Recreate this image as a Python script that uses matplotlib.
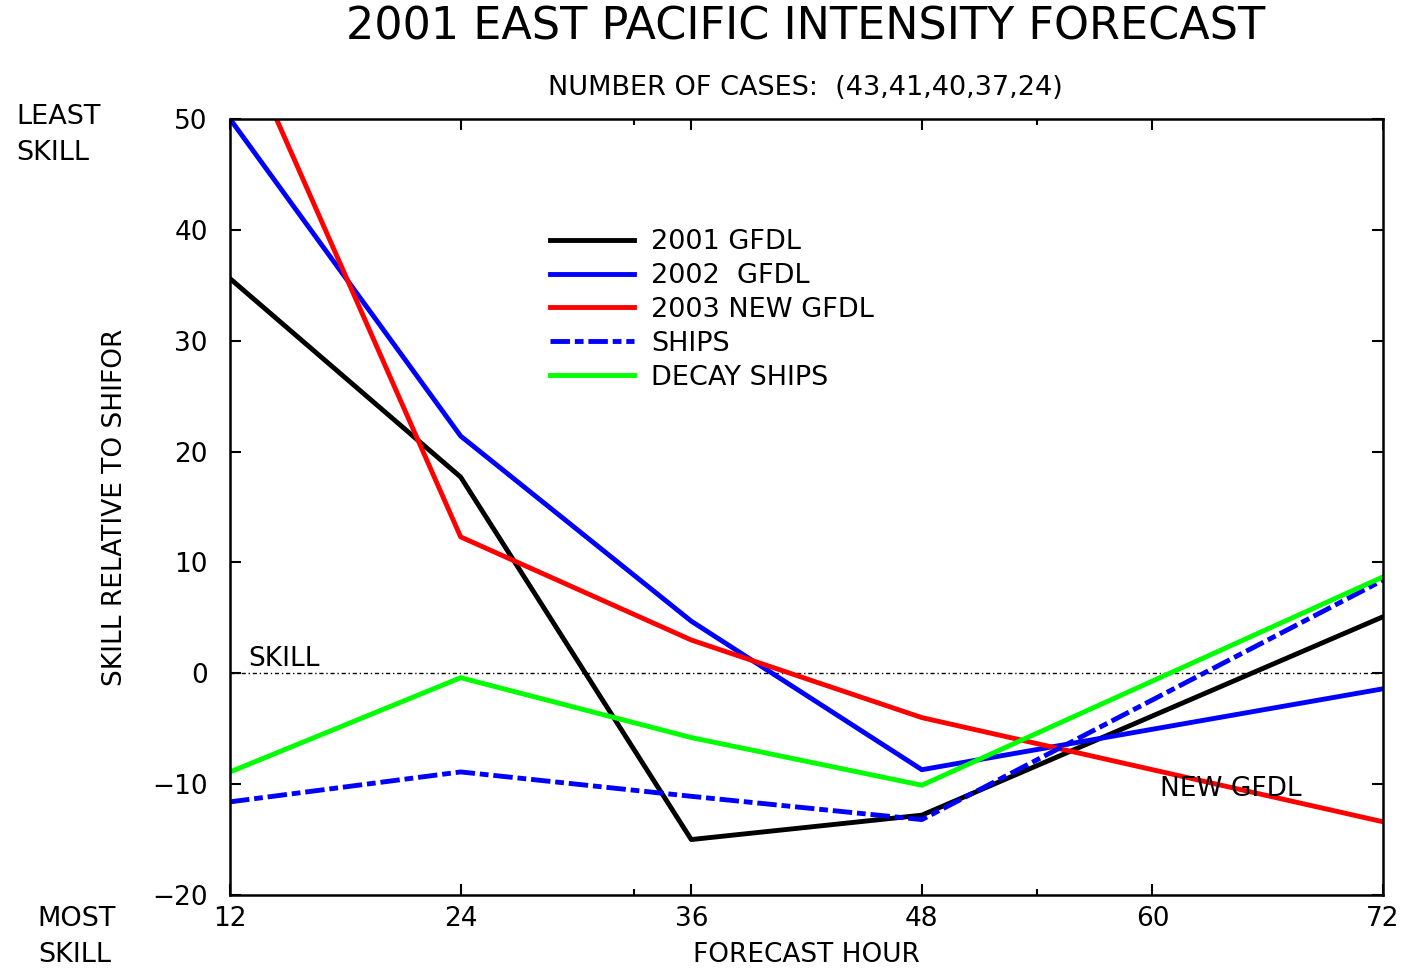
import matplotlib
matplotlib.use('Agg')
import matplotlib.pyplot as plt

plt.rcParams['font.family'] = ['DejaVu Sans']

# forecast hours and skill values (percent relative to SHIFOR)
hours = [12, 24, 36, 48, 72]
gfdl_2001 = [35.6, 17.7, -15.0, -12.8, 5.1]
gfdl_2002 = [50.0, 21.4, 4.7, -8.7, -1.4]
gfdl_2003 = [59.5, 12.3, 3.0, -4.0, -13.4]
ships = [-11.6, -8.9, -11.1, -13.2, 8.4]
decay_ships = [-8.9, -0.4, -5.8, -10.1, 8.7]

labels = ['2001 GFDL', '2002  GFDL', '2003 NEW GFDL', 'SHIPS', 'DECAY SHIPS']

fig = plt.figure(figsize=(14.01, 9.69), dpi=100)
ax = fig.add_axes([0.1642, 0.0764, 0.8230, 0.8008])

lw = 3.5
ax.plot(hours, gfdl_2001, color='black', lw=lw, label=labels[0])
ax.plot(hours, gfdl_2002, color='#0000ff', lw=lw, label=labels[1])
ax.plot(hours, gfdl_2003, color='#ff0000', lw=lw, label=labels[2])
ax.plot(hours, ships, color='#0000ff', lw=lw, linestyle=(0, (4, 1.0, 1.8, 1.0)),
        label=labels[3])
ax.plot(hours, decay_ships, color='#00ff00', lw=lw, label=labels[4])

# zero skill line
ax.axhline(0, color='black', lw=1.0, linestyle=(0, (3, 2, 1, 2)), zorder=1)
ax.text(12.95, 1.3, 'SKILL', fontsize=19, va='center', ha='left')
ax.text(60.4, -10.4, 'NEW GFDL', fontsize=19, va='center', ha='left')

ax.set_xlim(12, 72)
ax.set_ylim(-20, 50)
ax.set_xticks([12, 24, 36, 48, 60, 72])
ax.set_xticks([33, 54], minor=True)
ax.set_yticks(range(-20, 51, 10))
ax.tick_params(which='both', direction='in', top=True, right=True,
               labelsize=19, width=1.5)
ax.tick_params(which='major', length=8)
ax.tick_params(which='minor', length=4)
ax.tick_params(axis='x', pad=8)
ax.tick_params(axis='y', pad=16)
for s in ax.spines.values():
    s.set_linewidth(1.8)

ax.set_xlabel('FORECAST HOUR', fontsize=19)
ax.xaxis.set_label_coords(0.5, -0.077)
ax.xaxis.label.set_va('center')
ax.set_ylabel('SKILL RELATIVE TO SHIFOR', fontsize=19)
ax.yaxis.set_label_coords(-0.0997, 0.5)
ax.yaxis.label.set_va('center')

leg = ax.legend(loc='upper left', bbox_to_anchor=(0.268, 0.872), frameon=False,
                fontsize=19.5, handlelength=3.1, handletextpad=0.65,
                labelspacing=0.29, borderaxespad=0)

fig.text(0.575, 0.972, '2001 EAST PACIFIC INTENSITY FORECAST', fontsize=32,
         ha='center', va='center')
fig.text(0.575, 0.909, 'NUMBER OF CASES:  (43,41,40,37,24)', fontsize=19.5,
         ha='center', va='center')
fig.text(0.0114, 0.861, 'LEAST\nSKILL', fontsize=19.5, ha='left', va='center',
         linespacing=1.5)
fig.text(0.027, 0.033, 'MOST\nSKILL', fontsize=19.5, ha='left', va='center',
         linespacing=1.5)

fig.savefig('out.png', dpi=100)
